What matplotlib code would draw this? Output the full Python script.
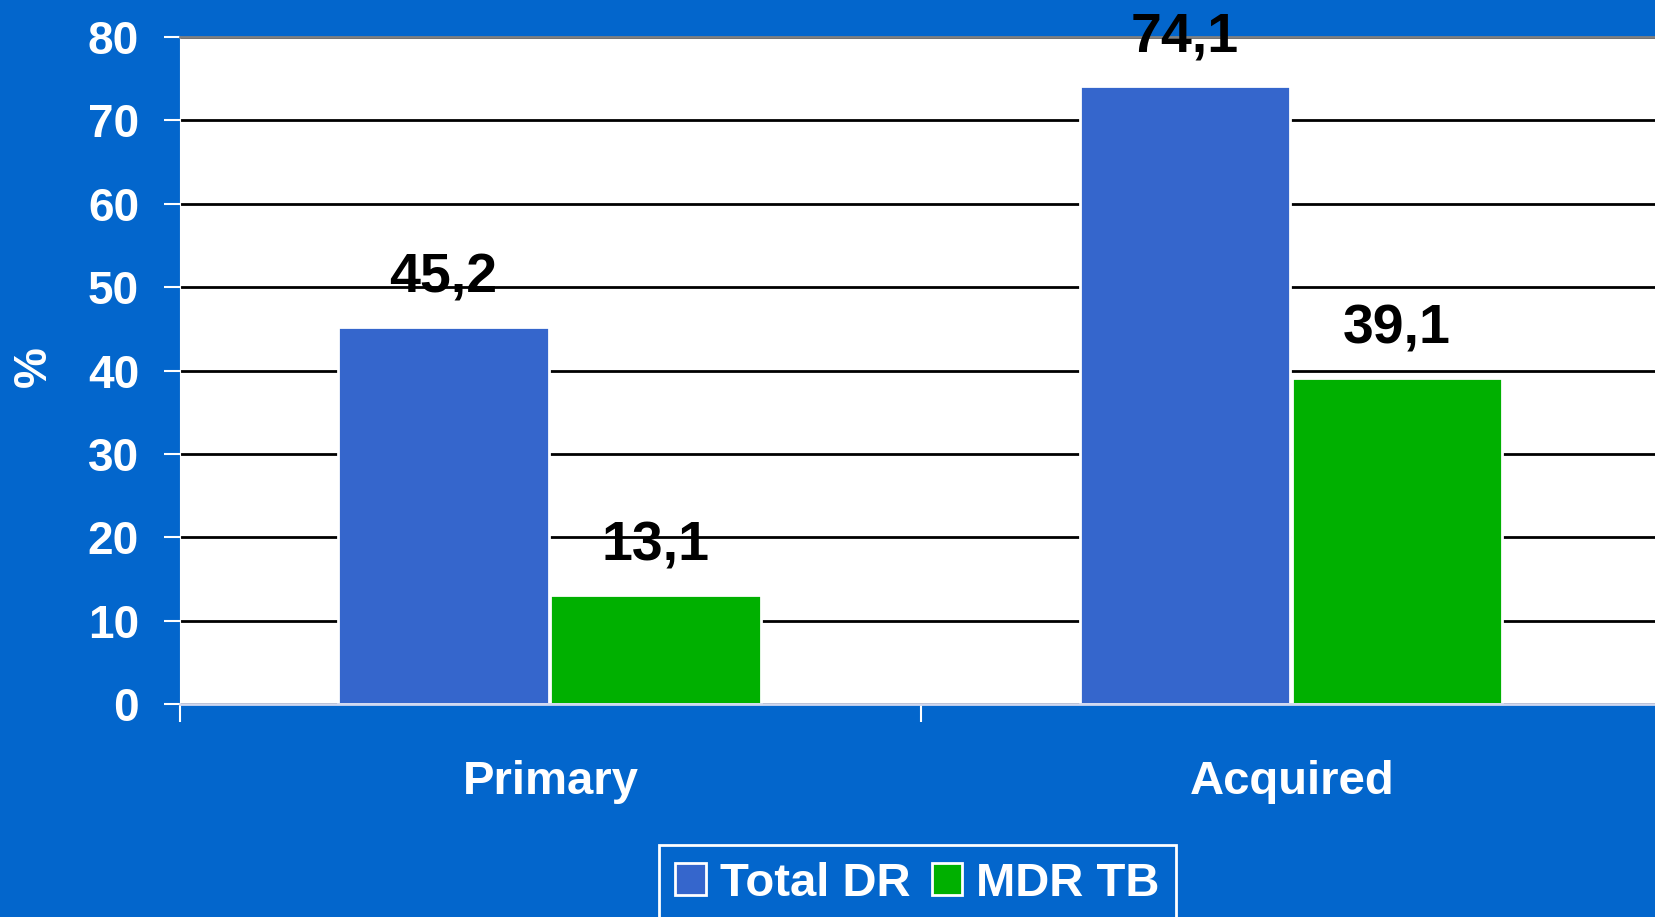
"""Drug resistance bar chart: primary vs acquired."""

import matplotlib
matplotlib.use('Agg')
import matplotlib.pyplot as plt
import numpy as np

# Data
categories = ['Primary', 'Acquired']
series_names = ['Total DR', 'MDR TB']
total_dr = [45.2, 74.1]
mdr_tb = [13.1, 39.1]
value_labels = [['45,2', '74,1'], ['13,1', '39,1']]
y_ticks = [0, 10, 20, 30, 40, 50, 60, 70, 80]

bg = '#0366CC'
bar_colors = ['#3566CC', '#00B000']

plt.rcParams['font.family'] = ['Liberation Sans', 'DejaVu Sans']
plt.rcParams['font.weight'] = 'bold'

fig = plt.figure(figsize=(16.56, 9.17), dpi=100, facecolor=bg)
ax = fig.add_axes([180 / 1656, 1 - 704 / 917, 1483 / 1656, 667 / 917])
ax.set_facecolor('white')

x = np.arange(len(categories))
width = 0.284
offsets = [-0.1445, 0.1415]

# Grid behind the bars
ax.set_axisbelow(True)
ax.yaxis.grid(True, color='black', linewidth=2)

for vals, off, col, name, labs in zip([total_dr, mdr_tb], offsets, bar_colors,
                                      series_names, value_labels):
    bars = ax.bar(x + off, vals, width, color=col, edgecolor='white',
                  linewidth=2, label=name, zorder=2)
    for b, lab in zip(bars, labs):
        ax.annotate(lab, (b.get_x() + b.get_width() / 2, b.get_height()),
                    xytext=(0, 25), textcoords='offset points',
                    ha='center', va='baseline', fontsize=40,
                    fontweight='bold', color='black', clip_on=False,
                    annotation_clip=False, zorder=5)

ax.set_ylim(0, 80)
ax.set_xlim(-0.5, 1.5)
ax.set_yticks(y_ticks)
ax.tick_params(axis='y', colors='white', labelsize=33, length=11.5,
               width=1.5, pad=18)
ax.set_xticks(x)
ax.set_xticklabels(categories)
ax.set_xticks([-0.5, 0.5, 1.5], minor=True)
ax.tick_params(axis='x', which='major', length=0, labelsize=34,
               labelcolor='white', pad=40)
ax.tick_params(axis='x', which='minor', length=13, width=1.5, colors='white')
for lab in ax.get_xticklabels() + ax.get_yticklabels():
    lab.set_fontweight('bold')

ax.spines['top'].set_color('#808080')
ax.spines['top'].set_linewidth(2)
ax.spines['right'].set_visible(False)
ax.spines['left'].set_color('white')
ax.spines['bottom'].set_color('#D0D8F0')
ax.spines['bottom'].set_linewidth(2)

fig.text(34 / 1656, 1 - 367 / 917, '%', rotation=90, ha='center',
         va='center', fontsize=33, fontweight='bold', color='white')

leg = fig.legend(loc='upper center', bbox_to_anchor=(0.554, 0.0785),
                 ncol=2, fontsize=34, frameon=True, fancybox=False,
                 facecolor=bg, edgecolor='white', framealpha=1,
                 handlelength=0.64, handleheight=0.64, handletextpad=0.3,
                 columnspacing=0.45, borderpad=0.35, borderaxespad=0)
leg.get_frame().set_linewidth(2)
for t in leg.get_texts():
    t.set_color('white')
    t.set_fontweight('bold')

fig.savefig('out.png', dpi=100, facecolor=bg)
